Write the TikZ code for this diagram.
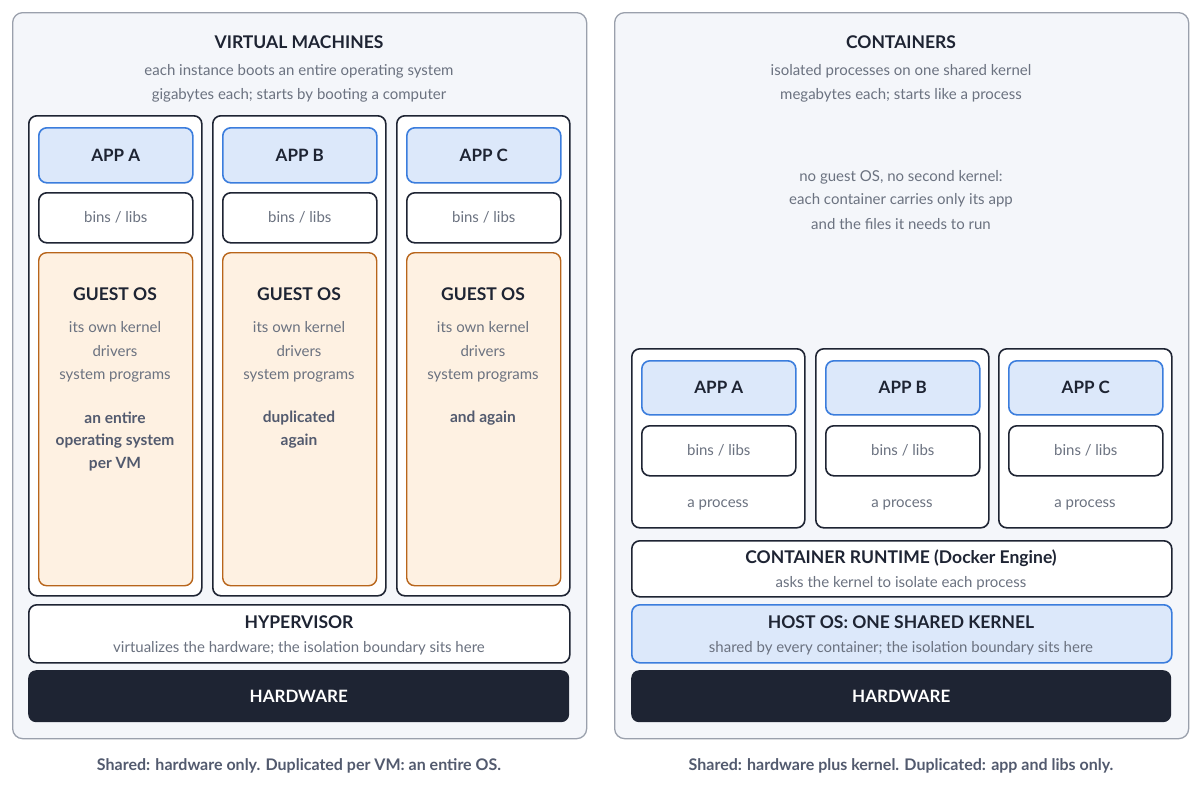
\documentclass[tikz,border=0pt]{standalone}
\usepackage{fontspec}
\setmainfont{Lato}
\definecolor{ink}{HTML}{1E2433}
\definecolor{panelbg}{HTML}{F4F6FA}
\definecolor{panelline}{HTML}{9AA0AC}
\definecolor{bluebg}{HTML}{DCE8FA}
\definecolor{blueline}{HTML}{3B7DDD}
\definecolor{orangebg}{HTML}{FEF1E2}
\definecolor{orangeline}{HTML}{B8651B}
\definecolor{subgray}{HTML}{6B7280}
\definecolor{boldgray}{HTML}{525A6E}
\tikzset{
  panel/.style={draw=panelline, fill=panelbg, rounded corners=10pt, line width=1.3pt, anchor=north west, inner sep=0pt},
  colbox/.style={draw=ink, fill=white, rounded corners=8pt, line width=1.6pt, anchor=north west, inner sep=0pt},
  appbox/.style={draw=blueline, fill=bluebg, rounded corners=8pt, line width=1.6pt, anchor=north west, inner sep=0pt, font=\fontsize{17}{20}\selectfont\bfseries, text=ink},
  libbox/.style={draw=ink, fill=white, rounded corners=8pt, line width=1.6pt, anchor=north west, inner sep=0pt, font=\fontsize{15}{18}\selectfont, text=subgray},
  guestbox/.style={draw=orangeline, fill=orangebg, rounded corners=8pt, line width=1.4pt, anchor=north west, inner sep=0pt},
  hwbox/.style={fill=ink, rounded corners=8pt, anchor=north west, inner sep=0pt, font=\fontsize{17}{20}\selectfont\bfseries, text=white},
  hostbox/.style={draw=blueline, fill=bluebg, rounded corners=8pt, line width=1.6pt, anchor=north west, inner sep=0pt},
  ttl/.style={font=\fontsize{17.5}{20}\selectfont\bfseries, text=ink, inner sep=0pt},
  sub/.style={font=\fontsize{15}{18}\selectfont, text=subgray, inner sep=0pt},
  bsub/.style={font=\fontsize{15.5}{18}\selectfont\bfseries, text=boldgray, inner sep=0pt},
  capt/.style={font=\fontsize{16}{19}\selectfont\bfseries, text=boldgray, inner sep=0pt},
}
\begin{document}
\begin{tikzpicture}[x=1pt,y=-1pt]
\useasboundingbox[fill=white] (0,0) rectangle (1200,798);
% panels
\node[panel, minimum width=574pt, minimum height=726pt] (vmpanel) at (12,12) {};
\node[panel, minimum width=574pt, minimum height=726pt] (ctpanel) at (614,12) {};
% VM header
\node[ttl] (vmtitle) at (299,42) {VIRTUAL MACHINES};
\node[sub] (vmsub1) at (299,71) {each instance boots an entire operating system};
\node[sub] (vmsub2) at (299,95) {gigabytes each; starts by booting a computer};
% VM columns
\foreach \x/\l/\n in {28/A/1,212/B/2,396/C/3}{
  \node[colbox, minimum width=173pt, minimum height=480pt] (vmcol\n) at (\x,115) {};
  \node[appbox, minimum width=154pt, minimum height=55pt] (vmapp\n) at (\x+10,127) {APP \l};
  \node[libbox, minimum width=154pt, minimum height=50pt] (vmlib\n) at (\x+10,192) {bins / libs};
  \node[guestbox, minimum width=154pt, minimum height=333pt] (guest\n) at (\x+10,252) {};
  \node[ttl] (gtitle\n) at (\x+87,294) {GUEST OS};
  \node[sub] (gl1\n) at (\x+87,327) {its own kernel};
  \node[sub] (gl2\n) at (\x+87,351) {drivers};
  \node[sub] (gl3\n) at (\x+87,376) {system programs};
}
\node[bsub] (gb11) at (115,418) {an entire};
\node[bsub] (gb12) at (115,441) {operating system};
\node[bsub] (gb13) at (115,464) {per VM};
\node[bsub] (gb21) at (299,418) {duplicated};
\node[bsub] (gb22) at (299,441) {again};
\node[bsub] (gb31) at (483,418) {and again};
% hypervisor
\node[colbox, minimum width=541pt, minimum height=58pt] (hyper) at (28,604) {};
\node[ttl] (hypert) at (299,622) {HYPERVISOR};
\node[sub] (hypers) at (299,648) {virtualizes the hardware; the isolation boundary sits here};
\node[hwbox, minimum width=541pt, minimum height=52pt] (vmhw) at (28,670) {HARDWARE};
\node[capt] (vmcap) at (299,766) {Shared: hardware only. Duplicated per VM: an entire OS.};
% Containers header
\node[ttl] (cttitle) at (901,42) {CONTAINERS};
\node[sub] (ctsub1) at (901,71) {isolated processes on one shared kernel};
\node[sub] (ctsub2) at (901,95) {megabytes each; starts like a process};
\node[sub] (note1) at (901,177) {no guest OS, no second kernel:};
\node[sub] (note2) at (901,200) {each container carries only its app};
\node[sub] (note3) at (901,224) {and the files it needs to run};
\foreach \x/\l/\n in {631/A/1,815/B/2,998/C/3}{
  \node[colbox, minimum width=173pt, minimum height=179pt] (ctcol\n) at (\x,348) {};
  \node[appbox, minimum width=154pt, minimum height=54pt] (ctapp\n) at (\x+10,360) {APP \l};
  \node[libbox, minimum width=154pt, minimum height=50pt] (ctlib\n) at (\x+10,425) {bins / libs};
  \node[sub] (proc\n) at (\x+87,505) {a process};
}
\node[colbox, minimum width=540pt, minimum height=56pt] (runtime) at (631,540) {};
\node[ttl] (runt) at (901,558) {CONTAINER RUNTIME (Docker Engine)};
\node[sub] (runs) at (901,583) {asks the kernel to isolate each process};
\node[hostbox, minimum width=540pt, minimum height=58pt] (host) at (631,604) {};
\node[ttl] (hostt) at (901,622) {HOST OS: ONE SHARED KERNEL};
\node[sub] (hosts) at (901,648) {shared by every container; the isolation boundary sits here};
\node[hwbox, minimum width=540pt, minimum height=52pt] (cthw) at (631,670) {HARDWARE};
\node[capt] (ctcap) at (901,766) {Shared: hardware plus kernel. Duplicated: app and libs only.};
\end{tikzpicture}
\end{document}
